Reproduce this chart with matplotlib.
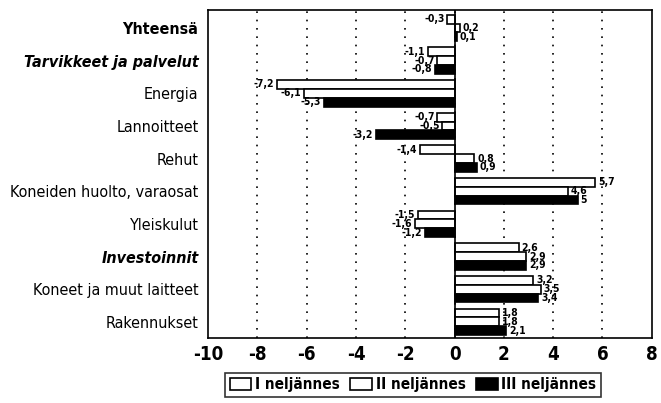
import matplotlib.pyplot as plt
import numpy as np

plt.rcParams['font.family'] = ['DejaVu Sans']
plt.rcParams['font.stretch'] = 'condensed'

kategoriat = ['Yhteensä', 'Tarvikkeet ja palvelut', 'Energia', 'Lannoitteet', 'Rehut',
              'Koneiden huolto, varaosat', 'Yleiskulut', 'Investoinnit',
              'Koneet ja muut laitteet', 'Rakennukset']
q1 = [-0.3, -1.1, -7.2, -0.7, -1.4, 5.7, -1.5, 2.6, 3.2, 1.8]
q2 = [0.2, -0.7, -6.1, -0.5, 0.8, 4.6, -1.6, 2.9, 3.5, 1.8]
q3 = [0.1, -0.8, -5.3, -3.2, 0.9, 5.0, -1.2, 2.9, 3.4, 2.1]
sarjat = ['I neljännes', 'II neljännes', 'III neljännes']
xticks = [-10, -8, -6, -4, -2, 0, 2, 4, 6, 8]

fig = plt.figure(figsize=(6.61, 4.03), dpi=100)
ax = fig.add_axes([0.315, 0.161, 0.671, 0.814])

y = np.arange(len(kategoriat))
h = 0.27
varit = ['white', 'white', 'black']
for i, (arvot, nimi) in enumerate(zip([q1, q2, q3], sarjat)):
    pos = y + (i - 1) * h
    ax.barh(pos, arvot, height=h, color=varit[i], edgecolor='black', linewidth=1.2,
            label=nimi, zorder=3)
    for p, v in zip(pos, arvot):
        txt = f"{v:g}".replace('.', ',')
        ax.annotate(txt, (v, p), xytext=(2 if v >= 0 else -2, 0), textcoords='offset points',
                    ha='left' if v >= 0 else 'right', va='center', fontsize=7.5,
                    fontweight='bold', zorder=4)

ax.set_xlim(-10, 8)
ax.set_ylim(len(kategoriat) - 0.5, -0.55)
ax.set_xticks(xticks)
ax.set_xticklabels([str(t) for t in xticks], fontsize=13.5, fontweight='bold')
ax.tick_params(axis='x', length=0, pad=5)
ax.tick_params(axis='y', length=0, pad=7)
ax.set_yticks(y)
ax.set_yticklabels(kategoriat, fontsize=11.5)
for i, lab in enumerate(ax.get_yticklabels()):
    if i == 0:
        lab.set_fontweight('bold')
    elif i in (1, 7):
        lab.set_fontweight('bold')
        lab.set_fontstyle('italic')

for t in xticks[1:-1]:
    ax.axvline(t, color='black', linestyle=(0, (1, 4)), linewidth=1.2, zorder=1)
ax.axvline(0, color='black', linewidth=1.2, zorder=4)
for s in ax.spines.values():
    s.set_linewidth(1.2)

leg = fig.legend(loc='center', bbox_to_anchor=(0.625, 0.045), ncol=3, frameon=True,
                 fancybox=False, edgecolor='black', handlelength=1.4,
                 handleheight=0.9, handletextpad=0.25, columnspacing=0.7,
                 borderpad=0.3, prop={'weight': 'bold', 'size': 11, 'stretch': 'condensed'})
leg.get_frame().set_linewidth(1.2)

fig.savefig('out.png', dpi=100)
